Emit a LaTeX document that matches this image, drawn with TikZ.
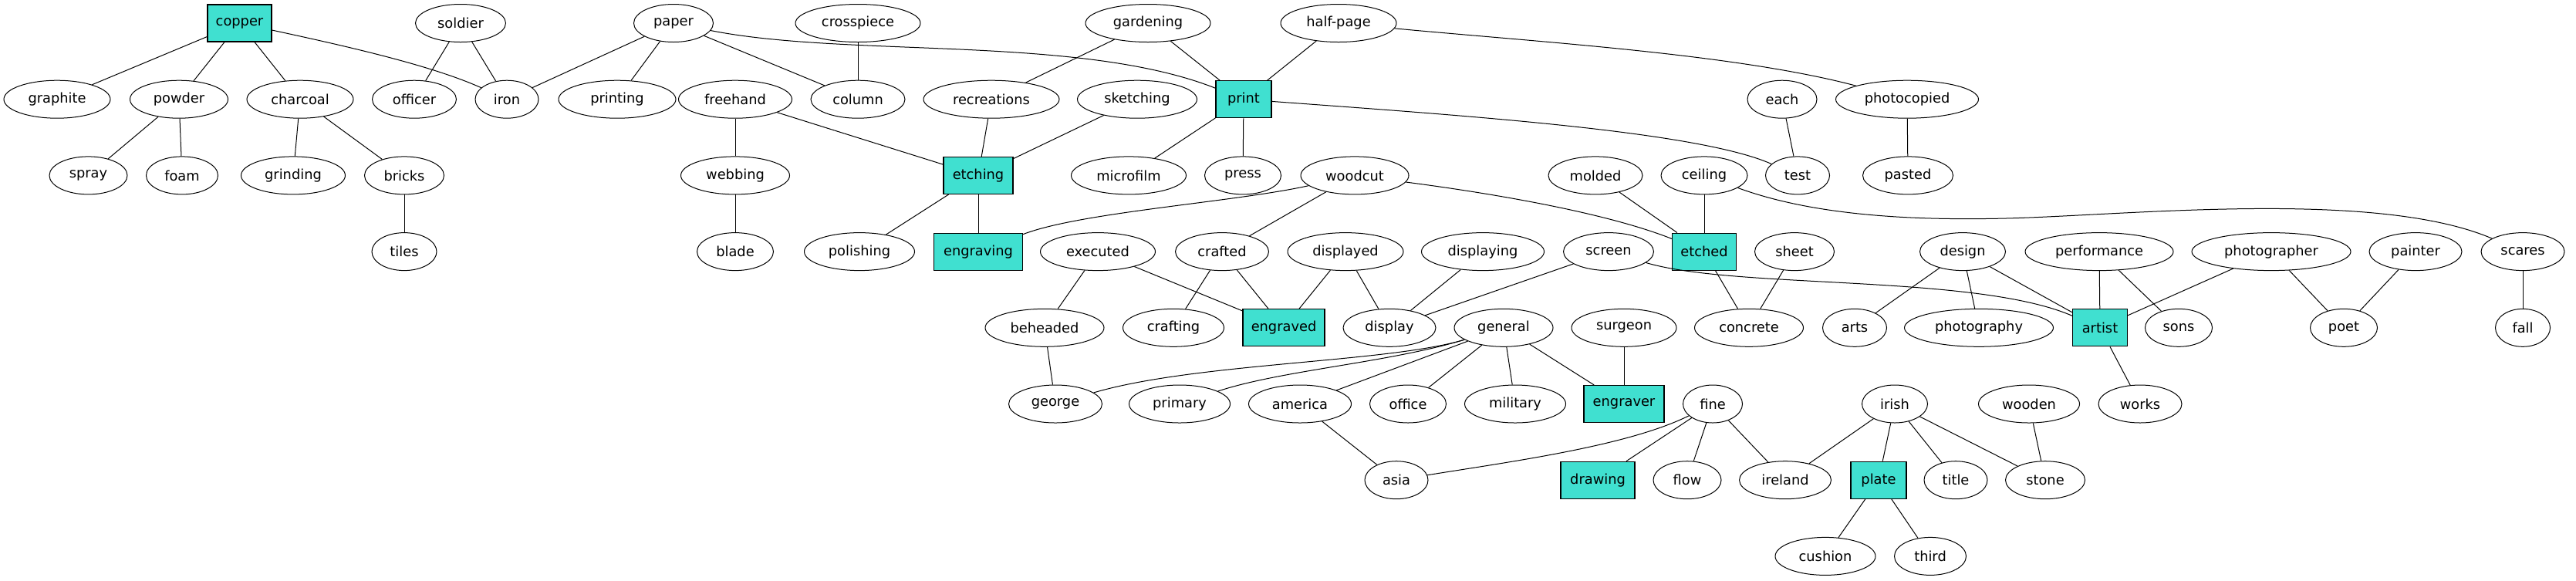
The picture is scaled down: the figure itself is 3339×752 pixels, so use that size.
\documentclass[tikz,border=0pt]{standalone}
\usepackage{fontspec}
\setmainfont{DejaVu Sans}
\usetikzlibrary{shapes.geometric}
\definecolor{tq}{HTML}{40E0D0}
\tikzset{
  every node/.style={font=\fontsize{8.9}{10}\selectfont},
  el/.style={ellipse, draw, line width=0.5pt, inner sep=0pt, minimum height=24.5pt, minimum width=#1},
  bx/.style={rectangle, draw, fill=tq, line width=0.6pt, inner sep=0pt, minimum height=24pt, minimum width=#1},
  ln/.style={line width=0.5pt}
}
\begin{document}
\begin{tikzpicture}[x=0.5pt,y=-0.5pt]
\useasboundingbox (0,0) rectangle (3339,752);
% row 1
\node[bx=41.5pt] (copper) at (310.5,30) {copper};
\node[el=58.5pt] (soldier) at (597,30) {soldier};
\node[el=51.5pt] (paper) at (873,30) {paper};
\node[el=81pt] (crosspiece) at (1112,30) {crosspiece};
\node[el=81pt] (gardening) at (1488,30) {gardening};
\node[el=75pt] (halfpage) at (1735,30) {half-page};
% row 2
\node[el=69pt] (graphite) at (74,128.7) {graphite};
\node[el=63.5pt] (powder) at (232,128.7) {powder};
\node[el=69pt] (charcoal) at (389,128.7) {charcoal};
\node[el=54.5pt] (officer) at (537,128.7) {officer};
\node[el=41pt] (iron) at (657,128.7) {iron};
\node[el=76pt] (printing) at (800,128.7) {printing};
\node[el=73.5pt] (freehand) at (953,128.7) {freehand};
\node[el=61pt] (column) at (1112,128.7) {column};
\node[el=88pt] (recreations) at (1285,128.7) {recreations};
\node[el=77.5pt] (sketching) at (1474,128.7) {sketching};
\node[bx=36pt] (print) at (1612,128.7) {print};
\node[el=45pt] (each) at (2310,128.7) {each};
\node[el=92.5pt] (photocopied) at (2472,128.7) {photocopied};
% row 3
\node[el=50.5pt] (spray) at (114.5,227.4) {spray};
\node[el=46.5pt] (foam) at (236,227.4) {foam};
\node[el=67.5pt] (grinding) at (380,227.4) {grinding};
\node[el=51.5pt] (bricks) at (524,227.4) {bricks};
\node[el=70.5pt] (webbing) at (953,227.4) {webbing};
\node[bx=45pt] (etching) at (1268,227.4) {etching};
\node[el=74.5pt] (microfilm) at (1463,227.4) {microfilm};
\node[el=49.5pt] (press) at (1611,227.4) {press};
\node[el=70pt] (woodcut) at (1756,227.4) {woodcut};
\node[el=61pt] (molded) at (2068,227.4) {molded};
\node[el=56pt] (ceiling) at (2209,227.4) {ceiling};
\node[el=41.5pt] (test) at (2330,227.4) {test};
\node[el=58.5pt] (pasted) at (2473,227.4) {pasted};
% row 4
\node[el=42pt] (tiles) at (524,326.1) {tiles};
\node[el=49.5pt] (blade) at (953,326.1) {blade};
\node[el=71.5pt] (polishing) at (1114,326.1) {polishing};
\node[bx=57.5pt] (engraving) at (1268,326.1) {engraving};
\node[el=74.5pt] (executed) at (1423,326.1) {executed};
\node[el=60.5pt] (crafted) at (1584,326.1) {crafted};
\node[el=75pt] (displayed) at (1744,326.1) {displayed};
\node[el=79.5pt] (displaying) at (1922,326.1) {displaying};
\node[el=58.5pt] (screen) at (2085,326.1) {screen};
\node[bx=41.5pt] (etched) at (2209,326.1) {etched};
\node[el=51.5pt] (sheet) at (2326,326.1) {sheet};
\node[el=55.5pt] (design) at (2544,326.1) {design};
\node[el=96pt] (performance) at (2721,326.1) {performance};
\node[el=103pt] (photographer) at (2944,326.1) {photographer};
\node[el=60pt] (painter) at (3131,326.1) {painter};
\node[el=54pt] (scares) at (3270,326.1) {scares};
% row 5
\node[el=77pt] (beheaded) at (1354,424.8) {beheaded};
\node[el=65.5pt] (crafting) at (1521,424.8) {crafting};
\node[bx=53pt] (engraved) at (1664,424.8) {engraved};
\node[el=60pt] (display) at (1801,424.8) {display};
\node[el=64pt] (general) at (1949,424.8) {general};
\node[el=68pt] (surgeon) at (2105,424.8) {surgeon};
\node[el=70.5pt] (concrete) at (2267,424.8) {concrete};
\node[el=41.5pt] (arts) at (2404,424.8) {arts};
\node[el=96.5pt] (photography) at (2565,424.8) {photography};
\node[bx=35.5pt] (artist) at (2722,424.8) {artist};
\node[el=43.5pt] (sons) at (2824,424.8) {sons};
\node[el=43.5pt] (poet) at (3038,424.8) {poet};
\node[el=35.5pt] (fall) at (3270,424.8) {fall};
% row 6
\node[el=60.5pt] (george) at (1368,523.5) {george};
\node[el=65.5pt] (primary) at (1529,523.5) {primary};
\node[el=66.5pt] (america) at (1685,523.5) {america};
\node[el=49.5pt] (office) at (1825,523.5) {office};
\node[el=65.5pt] (military) at (1964,523.5) {military};
\node[bx=52pt] (engraver) at (2105,523.5) {engraver};
\node[el=38.5pt] (fine) at (2220,523.5) {fine};
\node[el=42.5pt] (irish) at (2456,523.5) {irish};
\node[el=65.5pt] (wooden) at (2630,523.5) {wooden};
\node[el=54pt] (works) at (2774,523.5) {works};
% row 7
\node[el=41pt] (asia) at (1810,622.2) {asia};
\node[bx=48pt] (drawing) at (2071,622.2) {drawing};
\node[el=44pt] (flow) at (2187,622.2) {flow};
\node[el=59.5pt] (ireland) at (2314,622.2) {ireland};
\node[bx=36pt] (plate) at (2435,622.2) {plate};
\node[el=41pt] (title) at (2535,622.2) {title};
\node[el=51.5pt] (stone) at (2651,622.2) {stone};
% row 8
\node[el=65pt] (cushion) at (2366,720.9) {cushion};
\node[el=46.5pt] (third) at (2502,720.9) {third};
% edges
\begin{scope}[ln]
\draw (copper) -- (graphite);
\draw (copper) -- (powder);
\draw (copper) -- (charcoal);
\draw (copper) .. controls (450,60) and (560,85) .. (iron);
\draw (soldier) -- (officer);
\draw (soldier) -- (iron);
\draw (paper) -- (iron);
\draw (paper) -- (printing);
\draw (paper) -- (column);
\draw (paper) .. controls (1100,75) and (1400,45) .. (print);
\draw (crosspiece) -- (column);
\draw (gardening) -- (recreations);
\draw (gardening) -- (print);
\draw (halfpage) -- (print);
\draw (halfpage) .. controls (2000,55) and (2250,70) .. (photocopied);
\draw (powder) -- (spray);
\draw (powder) -- (foam);
\draw (charcoal) -- (grinding);
\draw (charcoal) -- (bricks);
\draw (bricks) -- (tiles);
\draw (freehand) -- (webbing);
\draw (freehand) -- (etching);
\draw (webbing) -- (blade);
\draw (recreations) -- (etching);
\draw (sketching) -- (etching);
\draw (print) -- (microfilm);
\draw (print) -- (press);
\draw (print) .. controls (1900,150) and (2200,170) .. (test);
\draw (each) -- (test);
\draw (photocopied) -- (pasted);
\draw (etching) -- (polishing);
\draw (etching) -- (engraving);
\draw (woodcut) .. controls (1600,262) and (1400,275) .. (engraving);
\draw (woodcut) -- (crafted);
\draw (woodcut) .. controls (1930,250) and (2080,275) .. (etched);
\draw (molded) -- (etched);
\draw (ceiling) -- (etched);
\draw (ceiling) .. controls (2330,272) and (2440,287) .. (2600,283)
      .. controls (2760,279) and (3080,245) .. (scares);
\draw (executed) -- (beheaded);
\draw (executed) -- (engraved);
\draw (crafted) -- (crafting);
\draw (crafted) -- (engraved);
\draw (displayed) -- (engraved);
\draw (displayed) -- (display);
\draw (displaying) -- (display);
\draw (screen) -- (display);
\draw (screen) .. controls (2250,375) and (2560,355) .. (artist);
\draw (etched) -- (concrete);
\draw (sheet) -- (concrete);
\draw (design) -- (arts);
\draw (design) -- (photography);
\draw (design) -- (artist);
\draw (performance) -- (artist);
\draw (performance) -- (sons);
\draw (photographer) -- (artist);
\draw (photographer) -- (poet);
\draw (painter) -- (poet);
\draw (scares) -- (fall);
\draw (beheaded) -- (george);
\draw (general) .. controls (1800,470) and (1550,470) .. (george);
\draw (general) .. controls (1800,470) and (1660,480) .. (primary);
\draw (general) -- (america);
\draw (general) -- (office);
\draw (general) -- (military);
\draw (general) -- (engraver);
\draw (surgeon) -- (engraver);
\draw (artist) -- (works);
\draw (america) -- (asia);
\draw (fine) .. controls (2110,578) and (1960,598) .. (asia);
\draw (fine) -- (drawing);
\draw (fine) -- (flow);
\draw (fine) -- (ireland);
\draw (irish) -- (ireland);
\draw (irish) -- (plate);
\draw (irish) -- (title);
\draw (irish) -- (stone);
\draw (wooden) -- (stone);
\draw (plate) -- (cushion);
\draw (plate) -- (third);
\end{scope}
\end{tikzpicture}
\end{document}
